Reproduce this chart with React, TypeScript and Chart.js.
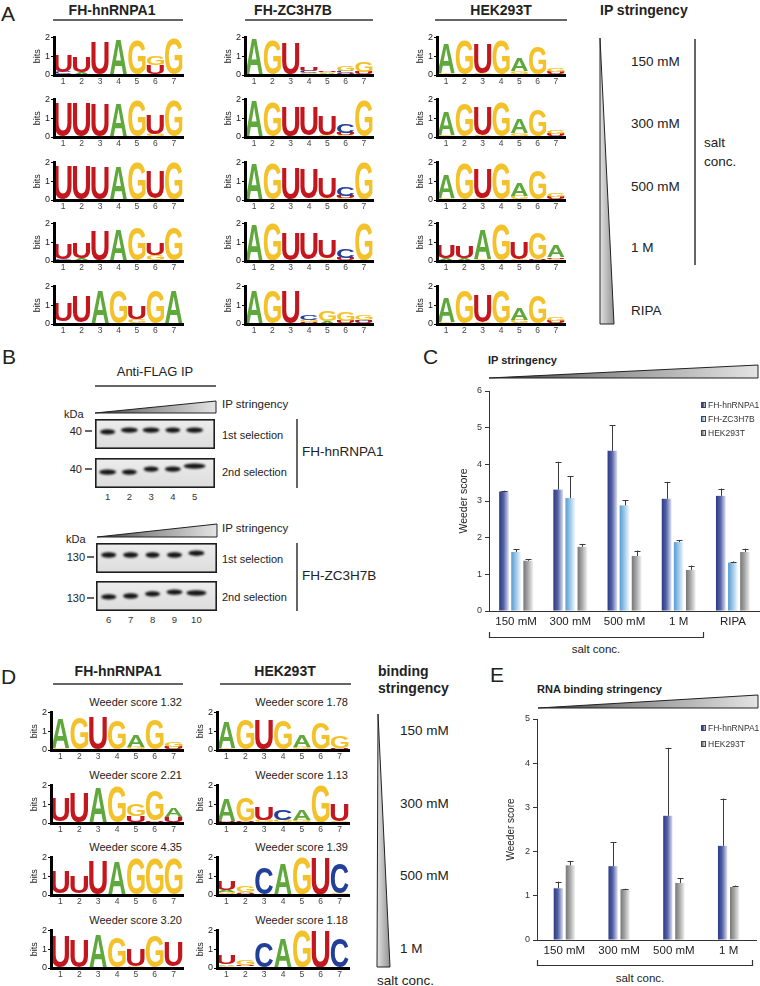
import React, { useEffect, useRef } from 'react';
import { Chart, registerables } from 'chart.js';

Chart.register(...registerables);

const FONT = '"Liberation Sans", Arial, Helvetica, sans-serif';

// ---------------- Panel C data ----------------
const cCategories = ['150 mM', '300 mM', '500 mM', '1 M', 'RIPA'];
const cHnRNPA1 = [3.26, 3.31, 4.37, 3.06, 3.14];
const cHnRNPA1Err = [0.02, 0.76, 0.7, 0.46, 0.2];
const cZC3H7B = [1.61, 3.08, 2.88, 1.88, 1.32];
const cZC3H7BErr = [0.07, 0.6, 0.14, 0.05, 0.03];
const cHEK293T = [1.37, 1.75, 1.5, 1.12, 1.61];
const cHEK293TErr = [0.04, 0.08, 0.15, 0.12, 0.09];

// ---------------- Panel E data ----------------
const eCategories = ['150 mM', '300 mM', '500 mM', '1 M'];
const eHnRNPA1 = [1.17, 1.67, 2.81, 2.13];
const eHnRNPA1Err = [0.15, 0.54, 1.54, 1.07];
const eHEK293T = [1.69, 1.15, 1.29, 1.2];
const eHEK293TErr = [0.09, 0.01, 0.11, 0.03];

// ---------------- Sequence logos (letters bottom -> top, height in bits) ----------------
const logoPositions = ['1', '2', '3', '4', '5', '6', '7'];

const logoA_hnRNPA1 = [
  ['C0.15 U0.88', 'A0.15 U0.85', 'U1.72', 'A1.88', 'G1.85', 'U0.5 G0.5', 'G1.9'],
  ['U1.8', 'U1.8', 'U1.72', 'A1.85', 'G1.9', 'G0.15 U1.0', 'G1.9'],
  ['U1.85', 'U1.85', 'U1.75', 'A1.85', 'G1.95', 'G0.08 U1.45', 'G1.95'],
  ['C0.12 U0.83', 'A0.15 U0.8', 'U1.63', 'A1.68', 'G1.8', 'G0.3 U0.6', 'G1.8'],
  ['A0.12 U0.95', 'A0.1 U1.35', 'G0.05 A1.75', 'G1.8', 'G0.25 U0.7', 'G1.8', 'G0.05 A1.72'],
];
const logoA_ZC3H7B = [
  ['A1.9', 'G1.85', 'G0.05 U1.62', 'G0.1 C0.12 U0.22', 'C0.05 A0.05 G0.05 U0.05', 'U0.1 C0.12 G0.28', 'U0.15 G0.55'],
  ['A1.9', 'G1.85', 'G0.05 U1.6', 'A0.08 U1.52', 'G0.1 U1.0', 'G0.08 U0.12 C0.48', 'G1.9'],
  ['A1.92', 'G1.9', 'G0.05 U1.65', 'A0.08 U1.58', 'G0.1 U1.1', 'G0.08 U0.12 C0.5', 'G1.95'],
  ['A1.95', 'G1.95', 'G0.05 U1.42', 'A0.1 U1.35', 'G0.12 U0.98', 'U0.15 C0.45', 'G1.95'],
  ['G0.05 A1.75', 'G1.8', 'U1.72', 'U0.1 G0.1 C0.3', 'A0.15 G0.55', 'U0.15 G0.5', 'U0.15 C0.05 G0.3'],
];
const logoA_HEK293T = [
  ['G0.1 A1.55', 'C0.03 G1.8', 'G0.08 U1.6', 'G1.82', 'C0.05 G0.15 A0.65', 'A0.05 G1.45', 'A0.05 U0.1 G0.22'],
  ['G0.08 A1.25', 'G1.8', 'G0.08 U1.5', 'G1.82', 'C0.05 G0.15 A0.72', 'U0.05 G1.42', 'A0.05 U0.1 G0.22'],
  ['G0.08 A1.22', 'G1.9', 'G0.08 U1.6', 'G1.9', 'G0.2 A0.65', 'U0.05 G1.55', 'A0.05 U0.1 G0.2'],
  ['A0.15 U0.68', 'A0.15 U0.6', 'G0.08 A1.55', 'G1.88', 'G0.12 U0.9', 'U0.08 G1.38', 'G0.12 U0.08 A0.62'],
  ['G0.1 A1.3', 'G1.8', 'G0.08 U1.45', 'G1.8', 'G0.2 A0.62', 'U0.05 G1.48', 'A0.05 U0.1 G0.2'],
];
const logoD_hnRNPA1 = [
  ['G0.08 A1.55', 'G1.72', 'G0.04 U1.7', 'G1.58', 'G0.15 A0.62', 'G1.62', 'C0.05 U0.12 G0.3'],
  ['A0.1 U1.25', 'G0.05 U1.55', 'A1.88', 'G1.88', 'U0.35 G0.6', 'U0.12 G1.6', 'U0.3 A0.5'],
  ['A0.1 U1.2', 'A0.12 U0.9', 'U1.84', 'A1.84', 'G1.9', 'G1.9', 'G1.9'],
  ['G0.05 U1.68', 'G0.05 U1.45', 'A1.84', 'G1.62', 'G0.12 U0.88', 'G1.72', 'A0.1 U1.28'],
];
const logoD_HEK293T = [
  ['G0.1 A1.35', 'G1.6', 'G0.04 U1.55', 'G1.58', 'G0.15 A0.62', 'G1.42', 'U0.12 G0.6'],
  ['U0.08 A1.2', 'U0.08 G1.25', 'G0.15 U0.65', 'G0.15 C0.55', 'G0.15 A0.55', 'G1.95', 'G0.1 U0.9'],
  ['G0.15 A0.1 U0.5', 'U0.1 A0.08 G0.32', 'G0.05 C1.4', 'A1.68', 'G1.95', 'U1.95', 'G0.06 C1.6'],
  ['G0.12 A0.08 U0.45', 'A0.1 U0.05 G0.3', 'C1.37', 'A1.58', 'G1.95', 'U1.95', 'G0.05 C1.55'],
];
const weederD_hnRNPA1 = ['1.32', '2.21', '4.35', '3.20'];
const weederD_HEK293T = ['1.78', '1.13', '1.39', '1.18'];

const aSaltLabels = ['150 mM', '300 mM', '500 mM', '1 M', 'RIPA'];
const dSaltLabels = ['150 mM', '300 mM', '500 mM', '1 M'];

// ---------------- Western blot band positions (fraction of box height from bottom) ----------------
const blotLanesTop = ['1', '2', '3', '4', '5'];
const blotLanesBottom = ['6', '7', '8', '9', '10'];
const blotA1 = [0.57, 0.63, 0.63, 0.63, 0.63];
const blotA2 = [0.53, 0.53, 0.63, 0.63, 0.73];
const blotB1 = [0.6, 0.6, 0.6, 0.6, 0.66];
const blotB2 = [0.47, 0.5, 0.57, 0.63, 0.6];

// ---------------- styles ----------------
const LETTER_COLORS: Record<string, string> = { A: '#5fa83b', C: '#22409a', G: '#f3c22b', U: '#c3161d' };
const GRAD = {
  hn: ['#2c3a84', '#5361a6', '#dcdff0'],
  zc: ['#5a9ad0', '#97c5e7', '#f0f8fd'],
  hek: ['#767676', '#a6a6a6', '#f0f0f0'],
};

// ---------------- plugins ----------------
const logoLetterPlugin = {
  id: 'logoLetters',
  afterDatasetsDraw(chart: any) {
    const ctx = chart.ctx as CanvasRenderingContext2D;
    chart.data.datasets.forEach((ds: any, di: number) => {
      const meta = chart.getDatasetMeta(di);
      meta.data.forEach((el: any, i: number) => {
        const letter = ds.letters[i];
        if (!letter) return;
        const { x, y, base, width } = el.getProps(['x', 'y', 'base', 'width'], true);
        const top = Math.min(y, base);
        const h = Math.abs(base - y);
        if (h < 0.4) return;
        ctx.save();
        ctx.font = 'bold 100px ' + FONT;
        ctx.textAlign = 'left';
        ctx.textBaseline = 'alphabetic';
        const m = ctx.measureText(letter);
        const gw = m.actualBoundingBoxLeft + m.actualBoundingBoxRight;
        const gh = m.actualBoundingBoxAscent + m.actualBoundingBoxDescent;
        ctx.translate(x - width / 2, top);
        ctx.scale(width / gw, h / gh);
        ctx.fillStyle = LETTER_COLORS[letter] || '#000';
        ctx.fillText(letter, m.actualBoundingBoxLeft, m.actualBoundingBoxAscent);
        ctx.restore();
      });
    });
  },
};

const gradientBarPlugin = {
  id: 'gradBars',
  afterDatasetsDraw(chart: any) {
    const ctx = chart.ctx as CanvasRenderingContext2D;
    const yScale = chart.scales.y;
    chart.data.datasets.forEach((ds: any, di: number) => {
      const meta = chart.getDatasetMeta(di);
      meta.data.forEach((el: any, i: number) => {
        const { x, y, base, width } = el.getProps(['x', 'y', 'base', 'width'], true);
        const left = x - width / 2;
        const g = ctx.createLinearGradient(left, 0, left + width, 0);
        g.addColorStop(0, ds.gradient[0]);
        g.addColorStop(0.45, ds.gradient[1]);
        g.addColorStop(1, ds.gradient[2]);
        ctx.fillStyle = g;
        ctx.fillRect(left, y, width, base - y);
        const err = ds.errors ? ds.errors[i] : 0;
        if (err) {
          const yt = yScale.getPixelForValue(ds.data[i] + err);
          const cx = Math.round(x) + 0.5;
          ctx.save();
          ctx.strokeStyle = '#3a3a3a';
          ctx.lineWidth = 1;
          ctx.beginPath();
          ctx.moveTo(cx, y);
          ctx.lineTo(cx, yt);
          ctx.moveTo(cx - 3, Math.round(yt) + 0.5);
          ctx.lineTo(cx + 3, Math.round(yt) + 0.5);
          ctx.stroke();
          ctx.restore();
        }
      });
    });
  },
};

const blotPlugin = {
  id: 'blot',
  beforeDraw(chart: any) {
    const { ctx, width, height } = chart;
    const g = ctx.createLinearGradient(0, 0, 0, height);
    g.addColorStop(0, '#ededed');
    g.addColorStop(1, '#dcdcdc');
    ctx.fillStyle = g;
    ctx.fillRect(0, 0, width, height);
  },
  afterDatasetsDraw(chart: any) {
    const ctx = chart.ctx as CanvasRenderingContext2D;
    const ds = chart.data.datasets[0];
    chart.getDatasetMeta(0).data.forEach((el: any, i: number) => {
      const rx = ds.bandWidths[i] / 2;
      ctx.save();
      ctx.filter = 'blur(0.9px)';
      ctx.fillStyle = '#151515';
      ctx.beginPath();
      ctx.ellipse(el.x, el.y, rx, 2.7, 0, 0, Math.PI * 2);
      ctx.fill();
      ctx.restore();
    });
  },
  afterDraw(chart: any) {
    const { ctx, width, height } = chart;
    ctx.save();
    ctx.strokeStyle = '#1e1e1e';
    ctx.lineWidth = 1.6;
    ctx.strokeRect(0.8, 0.8, width - 1.6, height - 1.6);
    ctx.restore();
  },
};

// ---------------- configs ----------------
function parseStack(s: string) {
  return s
    .split(' ')
    .filter(Boolean)
    .map((t) => ({ l: t[0], h: parseFloat(t.slice(1)) }));
}

function logoConfig(rows: string[]) {
  const stacks = rows.map(parseStack);
  const depth = Math.max(...stacks.map((s) => s.length));
  const datasets = Array.from({ length: depth }, (_, k) => ({
    data: stacks.map((s) => (s[k] ? s[k].h : 0)),
    letters: stacks.map((s) => (s[k] ? s[k].l : '')),
    backgroundColor: 'rgba(0,0,0,0)',
    borderWidth: 0,
    barPercentage: 0.94,
    categoryPercentage: 1,
  }));
  return {
    type: 'bar',
    data: { labels: logoPositions, datasets },
    options: {
      responsive: false,
      animation: false,
      events: [],
      layout: { padding: { left: 0, top: 6, right: 3, bottom: 0 } },
      plugins: { legend: { display: false }, tooltip: { enabled: false } },
      scales: {
        x: {
          stacked: true,
          grid: { display: false, drawTicks: false },
          border: { display: true, color: '#000', width: 3, z: 1 },
          ticks: { color: '#444', font: { size: 8.5, family: FONT }, padding: 2, maxRotation: 0, autoSkip: false },
          afterFit: (s: any) => {
            s.height = 14;
          },
        },
        y: {
          stacked: true,
          min: 0,
          max: 2,
          ticks: { stepSize: 1, color: '#222', font: { size: 9, family: FONT }, padding: 1 },
          grid: { drawOnChartArea: false, drawTicks: true, tickLength: 3, color: '#000' },
          border: { display: true, color: '#000', width: 3, z: 1 },
          title: { display: true, text: 'bits', color: '#222', font: { size: 9, family: FONT }, padding: { top: 6, bottom: 0 } },
          afterFit: (s: any) => {
            s.width = 28;
          },
        },
      },
    },
    plugins: [logoLetterPlugin],
  };
}

function barConfig(labels: string[], datasets: any[], yMax: number, o: any) {
  return {
    type: 'bar',
    data: {
      labels,
      datasets: datasets.map((d) => ({
        ...d,
        backgroundColor: 'rgba(0,0,0,0)',
        borderWidth: 0,
        barPercentage: o.barPct,
        categoryPercentage: o.catPct,
      })),
    },
    options: {
      responsive: false,
      animation: false,
      events: [],
      layout: { padding: o.padding },
      plugins: { legend: { display: false }, tooltip: { enabled: false } },
      scales: {
        x: {
          grid: { display: false, drawTicks: false },
          border: { display: true, color: '#333', width: 1, z: 1 },
          ticks: { color: '#222', font: { size: 11.5, family: FONT }, padding: 4, maxRotation: 0, autoSkip: false },
          afterFit: (s: any) => {
            s.height = o.xH;
          },
        },
        y: {
          min: 0,
          max: yMax,
          ticks: { stepSize: 1, color: '#333', font: { size: 9, family: FONT }, padding: 3 },
          grid: { drawOnChartArea: false, drawTicks: true, tickLength: 4, color: '#333' },
          border: { display: true, color: '#333', width: 1, z: 1 },
          title: { display: true, text: 'Weeder score', color: '#222', font: { size: o.titleSize, family: FONT }, padding: { top: 0, bottom: 0 } },
          afterFit: (s: any) => {
            s.width = o.yW;
          },
        },
      },
    },
    plugins: [gradientBarPlugin],
  };
}

function blotConfig(pos: number[], bandWidths: number[]) {
  return {
    type: 'scatter',
    data: { datasets: [{ data: pos.map((p, i) => ({ x: i + 1, y: p })), pointRadius: 0, bandWidths }] },
    options: {
      responsive: false,
      animation: false,
      events: [],
      layout: { padding: 0 },
      plugins: { legend: { display: false }, tooltip: { enabled: false } },
      scales: {
        x: { type: 'linear', display: false, min: 0.42, max: 5.94 },
        y: { display: false, min: 0, max: 1 },
      },
    },
    plugins: [blotPlugin],
  };
}

// ---------------- components ----------------
function ChartCanvas({ x, y, w, h, make }: { x: number; y: number; w: number; h: number; make: () => any }) {
  const ref = useRef<HTMLCanvasElement | null>(null);
  useEffect(() => {
    const c = new Chart(ref.current as HTMLCanvasElement, make());
    return () => c.destroy();
  }, []);
  return <canvas ref={ref} width={w} height={h} style={{ position: 'absolute', left: x, top: y, width: w, height: h }} />;
}

function Logo({ axisX, axisEnd, zero, rows }: { axisX: number; axisEnd: number; zero: number; rows: string[] }) {
  const YW = 28;
  const PT = 6;
  const PR = 3;
  const XH = 14;
  return (
    <ChartCanvas x={axisX - YW} y={zero - 38 - PT} w={axisEnd - axisX + YW + PR} h={PT + 38 + XH} make={() => logoConfig(rows)} />
  );
}

function Txt({
  x,
  y,
  children,
  size = 12,
  weight = 400,
  anchor = 'start',
  color = '#222',
}: {
  x: number;
  y: number;
  children: any;
  size?: number;
  weight?: number;
  anchor?: string;
  color?: string;
}) {
  const tx = anchor === 'middle' ? '-50%' : anchor === 'end' ? '-100%' : '0';
  return (
    <div
      style={{
        position: 'absolute',
        left: x,
        top: y,
        transform: `translate(${tx}, -50%)`,
        fontSize: size,
        fontWeight: weight,
        color,
        whiteSpace: 'nowrap',
        lineHeight: 1,
      }}
    >
      {children}
    </div>
  );
}

function LegendItem({ x, y, stops, label }: { x: number; y: number; stops: string[]; label: string }) {
  return (
    <>
      <div
        style={{
          position: 'absolute',
          left: x,
          top: y - 3,
          width: 5,
          height: 6,
          boxSizing: 'border-box',
          border: '1px solid #444',
          background: `linear-gradient(to right, ${stops[0]}, ${stops[1]}, ${stops[2]})`,
        }}
      />
      <Txt x={x + 7} y={y} size={8.5} color="#333">
        {label}
      </Txt>
    </>
  );
}

function Blot({ x, y, w, h, pos, widths }: { x: number; y: number; w: number; h: number; pos: number[]; widths: number[] }) {
  return <ChartCanvas x={x} y={y} w={w} h={h} make={() => blotConfig(pos, widths)} />;
}

function laneX(boxX: number, boxW: number, i: number) {
  return boxX + ((i + 1 - 0.42) / 5.52) * boxW;
}

export default function App() {
  useEffect(() => {
    document.body.style.margin = '0';
  }, []);

  const aCols = [
    { axisX: 54, axisEnd: 183, rows: logoA_hnRNPA1 },
    { axisX: 245, axisEnd: 373, rows: logoA_ZC3H7B },
    { axisX: 437, axisEnd: 565, rows: logoA_HEK293T },
  ];
  const aZeros = [75, 137, 200, 261, 324];
  const dCols = [
    { axisX: 51, axisEnd: 183, rows: logoD_hnRNPA1, scores: weederD_hnRNPA1 },
    { axisX: 217, axisEnd: 349, rows: logoD_HEK293T, scores: weederD_HEK293T },
  ];
  const dZeros = [750, 823, 895, 968];

  const cData = [
    { label: 'FH-hnRNPA1', data: cHnRNPA1, errors: cHnRNPA1Err, gradient: GRAD.hn },
    { label: 'FH-ZC3H7B', data: cZC3H7B, errors: cZC3H7BErr, gradient: GRAD.zc },
    { label: 'HEK293T', data: cHEK293T, errors: cHEK293TErr, gradient: GRAD.hek },
  ];
  const eData = [
    { label: 'FH-hnRNPA1', data: eHnRNPA1, errors: eHnRNPA1Err, gradient: GRAD.hn },
    { label: 'HEK293T', data: eHEK293T, errors: eHEK293TErr, gradient: GRAD.hek },
  ];

  return (
    <div
      style={{
        position: 'absolute',
        left: 0,
        top: 0,
        width: 760,
        height: 986,
        background: '#fff',
        fontFamily: FONT,
        overflow: 'hidden',
      }}
    >
      <svg width={760} height={986} style={{ position: 'absolute', left: 0, top: 0 }}>
        <defs>
          <linearGradient id="wH" x1="0" x2="1" y1="0" y2="0">
            <stop offset="0" stopColor="#3a3a3a" />
            <stop offset="0.4" stopColor="#8e8e8e" />
            <stop offset="1" stopColor="#e4e4e4" />
          </linearGradient>
          <linearGradient id="wV" x1="0" x2="1" y1="0" y2="0">
            <stop offset="0" stopColor="#e2e2e2" />
            <stop offset="1" stopColor="#929292" />
          </linearGradient>
        </defs>
        <g stroke="#333" strokeWidth={1.5} fill="none">
          <line x1={53} y1={20} x2={183} y2={20} />
          <line x1={245} y1={20} x2={373} y2={20} />
          <line x1={435} y1={20} x2={567} y2={20} />
          <line x1={695} y1={39} x2={695} y2={265} />
          <line x1={95} y1={386} x2={216} y2={386} />
          <line x1={297} y1={419} x2={297} y2={488} />
          <line x1={297} y1={543} x2={297} y2={611} />
          <line x1={53} y1={684} x2={183} y2={684} />
          <line x1={220} y1={684} x2={351} y2={684} />
          <line x1={85} y1={431} x2={92} y2={431} />
          <line x1={85} y1={469} x2={92} y2={469} />
          <line x1={87} y1={557} x2={94} y2={557} />
          <line x1={87} y1={598} x2={94} y2={598} />
          <path d="M489.5,632 V637.5 H703.5 V632" strokeWidth={1.2} />
          <path d="M537.5,960 V965.5 H752.5 V960" strokeWidth={1.2} />
        </g>
        <g stroke="#222" strokeWidth={1}>
          <polygon points="600,38 614,324 600,324" fill="url(#wV)" />
          <polygon points="378,714 390,967 377,967" fill="url(#wV)" />
          <polygon points="95,413 216,401 216,413" fill="url(#wH)" />
          <polygon points="97,537 217,524 217,537" fill="url(#wH)" />
          <polygon points="489,378 758,365 758,378" fill="url(#wH)" />
          <polygon points="538,708 758,695 758,708" fill="url(#wH)" />
        </g>
      </svg>

      {/* ---------------- Panel A ---------------- */}
      <Txt x={1} y={13} size={21}>A</Txt>
      <Txt x={112} y={10} size={14} weight={700} anchor="middle">FH-hnRNPA1</Txt>
      <Txt x={293} y={10} size={14} weight={700} anchor="middle">FH-ZC3H7B</Txt>
      <Txt x={501} y={10} size={14} weight={700} anchor="middle">HEK293T</Txt>
      <Txt x={600} y={10} size={14} weight={700}>IP stringency</Txt>
      {aCols.map((c, ci) =>
        c.rows.map((r, ri) => <Logo key={`a${ci}-${ri}`} axisX={c.axisX} axisEnd={c.axisEnd} zero={aZeros[ri]} rows={r} />)
      )}
      {aSaltLabels.map((s, i) => (
        <Txt key={s} x={631} y={aZeros[i] - 13} size={13.5}>
          {s}
        </Txt>
      ))}
      <Txt x={704} y={143} size={13.5}>salt</Txt>
      <Txt x={704} y={162} size={13.5}>conc.</Txt>

      {/* ---------------- Panel B ---------------- */}
      <Txt x={2} y={356} size={21}>B</Txt>
      <Txt x={155} y={371} size={13} anchor="middle">Anti-FLAG IP</Txt>
      <Txt x={222} y={405} size={11.5}>IP stringency</Txt>
      <Txt x={64} y={414} size={11}>kDa</Txt>
      <Txt x={82} y={431} size={11} anchor="end">40</Txt>
      <Txt x={82} y={469} size={11} anchor="end">40</Txt>
      <Blot x={95} y={419} w={120} h={30} pos={blotA1} widths={[15, 17, 17, 15, 17]} />
      <Blot x={95} y={458} w={120} h={30} pos={blotA2} widths={[17, 15, 15, 16, 22]} />
      <Txt x={222} y={435} size={11}>1st selection</Txt>
      <Txt x={222} y={472} size={11}>2nd selection</Txt>
      {blotLanesTop.map((l, i) => (
        <Txt key={l} x={laneX(95, 120, i)} y={497} size={9.5} anchor="middle" color="#333">
          {l}
        </Txt>
      ))}
      <Txt x={302} y={452} size={13.5}>FH-hnRNPA1</Txt>

      <Txt x={222} y={529} size={11.5}>IP stringency</Txt>
      <Txt x={66} y={539} size={11}>kDa</Txt>
      <Txt x={85} y={557} size={11} anchor="end">130</Txt>
      <Txt x={85} y={598} size={11} anchor="end">130</Txt>
      <Blot x={96} y={543} w={121} h={30} pos={blotB1} widths={[15, 15, 14, 15, 16]} />
      <Blot x={96} y={581} w={121} h={30} pos={blotB2} widths={[15, 15, 15, 16, 20]} />
      <Txt x={222} y={559} size={11}>1st selection</Txt>
      <Txt x={222} y={597} size={11}>2nd selection</Txt>
      {blotLanesBottom.map((l, i) => (
        <Txt key={l} x={laneX(96, 121, i)} y={620} size={9.5} anchor="middle" color="#333">
          {l}
        </Txt>
      ))}
      <Txt x={302} y={576} size={13.5}>FH-ZC3H7B</Txt>

      {/* ---------------- Panel C ---------------- */}
      <Txt x={423} y={356} size={21}>C</Txt>
      <Txt x={488} y={360} size={11} weight={700}>IP stringency</Txt>
      <ChartCanvas
        x={440}
        y={381}
        w={320}
        h={250}
        make={() =>
          barConfig(cCategories, cData, 6, {
            padding: { left: 18, top: 10, right: 0, bottom: 0 },
            yW: 31,
            xH: 20,
            titleSize: 10.5,
            barPct: 0.8,
            catPct: 0.67,
          })
        }
      />
      <LegendItem x={701} y={405} stops={GRAD.hn} label="FH-hnRNPA1" />
      <LegendItem x={701} y={419} stops={GRAD.zc} label="FH-ZC3H7B" />
      <LegendItem x={701} y={433} stops={GRAD.hek} label="HEK293T" />
      <Txt x={596} y={650} size={11.5} anchor="middle">salt conc.</Txt>

      {/* ---------------- Panel D ---------------- */}
      <Txt x={1} y={676} size={21}>D</Txt>
      <Txt x={118} y={671} size={14} weight={700} anchor="middle">FH-hnRNPA1</Txt>
      <Txt x={285} y={671} size={14} weight={700} anchor="middle">HEK293T</Txt>
      <Txt x={378} y={671} size={14} weight={700}>binding</Txt>
      <Txt x={378} y={688} size={14} weight={700}>stringency</Txt>
      {dCols.map((c, ci) =>
        c.rows.map((r, ri) => (
          <React.Fragment key={`d${ci}-${ri}`}>
            <Txt x={c.axisEnd - 1} y={dZeros[ri] - 48} size={11} anchor="end">
              {`Weeder score ${c.scores[ri]}`}
            </Txt>
            <Logo axisX={c.axisX} axisEnd={c.axisEnd} zero={dZeros[ri]} rows={r} />
          </React.Fragment>
        ))
      )}
      {dSaltLabels.map((s, i) => (
        <Txt key={s} x={400} y={dZeros[i] - 19} size={13.5}>
          {s}
        </Txt>
      ))}
      <Txt x={377} y={981} size={13.5}>salt conc.</Txt>

      {/* ---------------- Panel E ---------------- */}
      <Txt x={490} y={674} size={21}>E</Txt>
      <Txt x={537} y={689} size={11} weight={700}>RNA binding stringency</Txt>
      <ChartCanvas
        x={480}
        y={709}
        w={280}
        h={251}
        make={() =>
          barConfig(eCategories, eData, 5, {
            padding: { left: 25, top: 10, right: 4, bottom: 0 },
            yW: 32,
            xH: 20,
            titleSize: 10,
            barPct: 0.77,
            catPct: 0.44,
          })
        }
      />
      <LegendItem x={701} y={728} stops={GRAD.hn} label="FH-hnRNPA1" />
      <LegendItem x={701} y={744} stops={GRAD.hek} label="HEK293T" />
      <Txt x={640} y={979} size={11.5} anchor="middle">salt conc.</Txt>
    </div>
  );
}
